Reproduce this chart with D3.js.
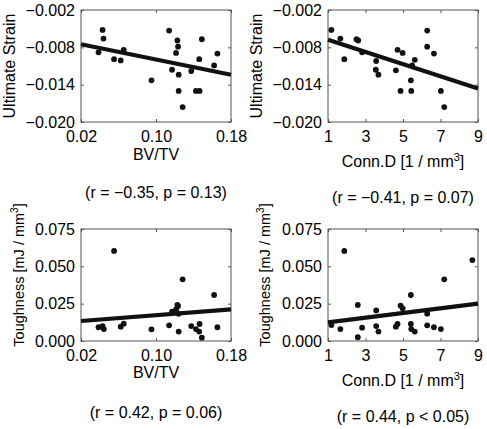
<!DOCTYPE html>
<html>
<head>
<meta charset="utf-8">
<script src="https://cdnjs.cloudflare.com/ajax/libs/d3/7.8.5/d3.min.js"></script>
<style>
  html, body { margin: 0; padding: 0; background: #fff; }
  svg { display: block; }
  text { font-family: "Liberation Sans", Arial, Helvetica, sans-serif; fill: #000; }
</style>
</head>
<body>
<svg id="chart" width="487" height="429"></svg>
<script>
// ---------- data ----------
const bvtvTicks = [0.02, 0.10, 0.18];
const connTicks = [1, 3, 5, 7, 9];
const strainTicks = [-0.002, -0.008, -0.014, -0.020];
const toughTicks = [0.000, 0.025, 0.050, 0.075];

// Ultimate strain vs BV/TV
const bvtvA = [0.0387, 0.0430, 0.0440, 0.0553, 0.0624, 0.0656, 0.0952, 0.1140, 0.1171, 0.1214, 0.1228,
               0.1235, 0.1242, 0.1242, 0.1284, 0.1376, 0.1426, 0.1465, 0.1461, 0.1489, 0.1620, 0.1655];
const strainA = [-0.0088, -0.0052, -0.0066, -0.0099, -0.0101, -0.0084, -0.0133, -0.0053, -0.0116, -0.0089, -0.0069,
                 -0.0079, -0.0124, -0.0150, -0.0176, -0.0118, -0.0150, -0.0150, -0.0099, -0.0067, -0.0109, -0.0090];
const fitA = [-0.0075, -0.0124];   // fitted line at x = 0.02 and 0.18

// Ultimate strain vs Conn.D
const connB = [1.18, 1.66, 1.87, 2.52, 2.61, 2.82, 3.57, 3.55, 3.69, 4.62, 4.71,
               4.87, 4.98, 5.42, 5.44, 5.49, 5.63, 6.29, 6.29, 6.65, 7.02, 7.20];
const strainB = [-0.0052, -0.0066, -0.0099, -0.0067, -0.0069, -0.0088, -0.0102, -0.0116, -0.0124, -0.0117, -0.0084,
                 -0.0150, -0.0089, -0.0133, -0.0150, -0.0109, -0.0100, -0.0053, -0.0079, -0.0090, -0.0150, -0.0176];
const fitB = [-0.0068, -0.0146];   // fitted line at x = 1 and 9

// Toughness vs BV/TV
const bvtvC = [0.0387, 0.0430, 0.0444, 0.0553, 0.0624, 0.0656, 0.0952, 0.1140, 0.1171, 0.1214, 0.1228,
               0.1235, 0.1242, 0.1242, 0.1284, 0.1376, 0.1426, 0.1465, 0.1461, 0.1489, 0.1620, 0.1655];
const toughC = [0.0092, 0.0100, 0.0080, 0.0603, 0.0096, 0.0116, 0.0078, 0.0105, 0.0196, 0.0212, 0.0241,
                0.0235, 0.0183, 0.0063, 0.0413, 0.0100, 0.0080, 0.0114, 0.0063, 0.0022, 0.0308, 0.0092];
const fitC = [0.0134, 0.0212];     // fitted line at x = 0.02 and 0.18

// Toughness vs Conn.D
const connD = [1.18, 1.66, 1.87, 2.59, 2.59, 2.82, 3.57, 3.57, 3.69, 4.62, 4.71, 4.87,
               4.98, 5.42, 5.42, 5.44, 5.63, 6.29, 6.29, 6.65, 7.02, 7.20, 8.70];
const toughD = [0.0107, 0.0080, 0.0603, 0.0241, 0.0025, 0.0089, 0.0205, 0.0100, 0.0063, 0.0096, 0.0114, 0.0237,
                0.0219, 0.0308, 0.0114, 0.0080, 0.0063, 0.0183, 0.0105, 0.0092, 0.0080, 0.0413, 0.0542];
const fitD = [0.0125, 0.0250];     // fitted line at x = 1 and 9

const statLabels = ["(r = \u22120.35, p = 0.13)", "(r = \u22120.41, p = 0.07)",
                    "(r = 0.42, p = 0.06)", "(r = 0.44, p < 0.05)"];

// ---------- layout ----------
const svg = d3.select("#chart");
const fmt = v => {
  const s = v.toFixed(3);
  return s.replace("-", "\u2212");
};

const panels = [
  { x0: 81, x1: 231, y0: 10, y1: 122, xd: [0.02, 0.18], yd: [-0.020, -0.002], xt: bvtvTicks, yt: strainTicks,
    xs: bvtvA, ys: strainA, fit: fitA, xfmt: d => d.toFixed(2), xlab: "bv", ylab: "strain",
    xlabY: 160, ylabX: 15, stat: statLabels[0], statX: 156, statY: 198 },
  { x0: 328, x1: 478, y0: 10, y1: 122, xd: [1, 9], yd: [-0.020, -0.002], xt: connTicks, yt: strainTicks,
    xs: connB, ys: strainB, fit: fitB, xfmt: d => String(d), xlab: "conn", ylab: "strain",
    xlabY: 167, ylabX: 262, stat: statLabels[1], statX: 403, statY: 203 },
  { x0: 81, x1: 231, y0: 229, y1: 341, xd: [0.02, 0.18], yd: [0, 0.075], xt: bvtvTicks, yt: toughTicks,
    xs: bvtvC, ys: toughC, fit: fitC, xfmt: d => d.toFixed(2), xlab: "bv", ylab: "tough",
    xlabY: 378, ylabX: 24, stat: statLabels[2], statX: 156, statY: 418 },
  { x0: 328, x1: 478, y0: 229, y1: 341, xd: [1, 9], yd: [0, 0.075], xt: connTicks, yt: toughTicks,
    xs: connD, ys: toughD, fit: fitD, xfmt: d => String(d), xlab: "conn", ylab: "tough",
    xlabY: 386, ylabX: 270, stat: statLabels[3], statX: 403, statY: 422 }
];

panels.forEach(p => {
  const x = d3.scaleLinear().domain(p.xd).range([p.x0, p.x1]);
  const y = d3.scaleLinear().domain(p.yd).range([p.y1, p.y0]);
  const g = svg.append("g");

  // axes with inward ticks
  const styleAxis = sel => {
    sel.selectAll("path.domain").remove();
    sel.selectAll(".tick line").attr("stroke", "#555").attr("stroke-width", 1);
    sel.selectAll("text").attr("font-size", 16).attr("fill", "#000")
       .style("font-family", "'Liberation Sans', Arial, sans-serif");
  };
  g.append("g").attr("transform", `translate(0,${p.y1})`)
    .call(d3.axisBottom(x).tickValues(p.xt).tickFormat(p.xfmt).tickSizeInner(-3).tickSizeOuter(0).tickPadding(9))
    .call(styleAxis);
  g.append("g").attr("transform", `translate(0,${p.y0})`)
    .call(d3.axisTop(x).tickValues(p.xt).tickFormat("").tickSizeInner(-3).tickSizeOuter(0))
    .call(styleAxis);
  g.append("g").attr("transform", `translate(${p.x0},0)`)
    .call(d3.axisLeft(y).tickValues(p.yt).tickFormat(fmt).tickSizeInner(-3).tickSizeOuter(0).tickPadding(6))
    .call(styleAxis);
  g.append("g").attr("transform", `translate(${p.x1},0)`)
    .call(d3.axisRight(y).tickValues(p.yt).tickFormat("").tickSizeInner(-3).tickSizeOuter(0))
    .call(styleAxis);

  // box
  g.append("rect").attr("x", p.x0).attr("y", p.y0)
    .attr("width", p.x1 - p.x0).attr("height", p.y1 - p.y0)
    .attr("fill", "none").attr("stroke", "#555").attr("stroke-width", 1);

  // points
  g.append("g").selectAll("circle").data(p.xs.map((v, i) => [v, p.ys[i]])).join("circle")
    .attr("cx", d => x(d[0])).attr("cy", d => y(d[1])).attr("r", 2.9).attr("fill", "#111");

  // fit line
  g.append("line")
    .attr("x1", x(p.xd[0])).attr("y1", y(p.fit[0]))
    .attr("x2", x(p.xd[1])).attr("y2", y(p.fit[1]))
    .attr("stroke", "#111").attr("stroke-width", 4.2);

  // x label
  const xl = g.append("text").attr("x", (p.x0 + p.x1) / 2).attr("y", p.xlabY)
    .attr("text-anchor", "middle").attr("font-size", 16);
  if (p.xlab === "bv") {
    xl.text("BV/TV");
  } else {
    xl.append("tspan").text("Conn.D [1 / mm");
    xl.append("tspan").attr("font-size", 11).attr("dy", -6).text("3");
    xl.append("tspan").attr("dy", 6).text("]");
  }

  // y label
  const cy = (p.y0 + p.y1) / 2;
  const yl = g.append("text").attr("transform", `translate(${p.ylabX},${p.ylab === "strain" ? cy : cy - 10}) rotate(-90)`)
    .attr("text-anchor", "middle");
  if (p.ylab === "strain") {
    yl.attr("font-size", 16).text("Ultimate Strain");
  } else {
    yl.attr("font-size", 14.5);
    yl.append("tspan").text("Toughness [mJ / mm");
    yl.append("tspan").attr("font-size", 10).attr("dy", -6).text("3");
    yl.append("tspan").attr("dy", 6).text("]");
  }

  // stats
  g.append("text").attr("x", p.statX).attr("y", p.statY).attr("text-anchor", "middle")
    .attr("font-size", 16).text(p.stat);
});
</script>
</body>
</html>
